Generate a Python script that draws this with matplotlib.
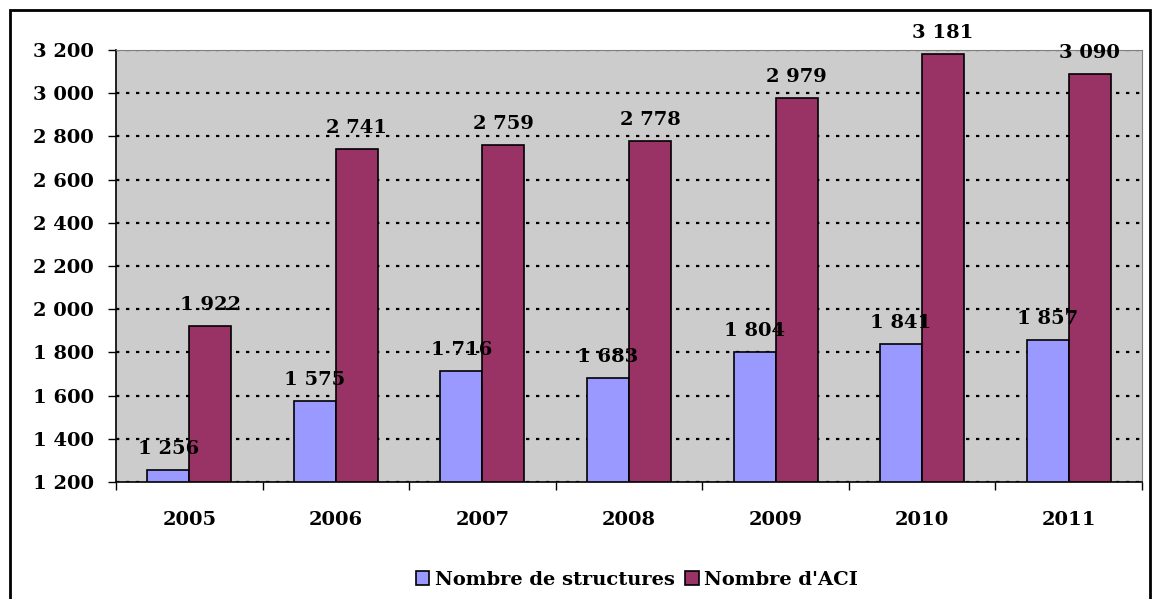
import matplotlib

matplotlib.use("Agg")
import matplotlib.pyplot as plt
import numpy as np
from matplotlib.patches import Rectangle

years = ["2005", "2006", "2007", "2008", "2009", "2010", "2011"]
structures = [1256, 1575, 1716, 1683, 1804, 1841, 1857]
aci = [1922, 2741, 2759, 2778, 2979, 3181, 3090]
series_names = ["Nombre de structures", "Nombre d'ACI"]
y_ticks = list(range(1200, 3201, 200))

BLUE = "#9999FF"
MAROON = "#993366"
FONT = dict(family="DejaVu Serif", weight="bold")
FS = 14


def fmt(v):
    return f"{v:,}".replace(",", " ")


fig = plt.figure(figsize=(11.52, 5.99), dpi=100)
fig.patches.append(
    Rectangle((10 / 1152, -0.01), 1140 / 1152, 1 - 10 / 599 + 0.01,
              transform=fig.transFigure, fill=False, edgecolor="black", linewidth=2)
)
ax = fig.add_axes([116 / 1152, 1 - 482 / 599, 1026 / 1152, 432 / 599])
ax.set_facecolor("#CCCCCC")

x = np.arange(len(years))
w = 0.287
b1 = ax.bar(x - w / 2, np.array(structures) - 1200, w, bottom=1200, color=BLUE,
            edgecolor="black", linewidth=1.2, zorder=3, label=series_names[0])
b2 = ax.bar(x + w / 2, np.array(aci) - 1200, w, bottom=1200, color=MAROON,
            edgecolor="black", linewidth=1.2, zorder=3, label=series_names[1])

for xs, vals in ((x - w / 2, structures), (x + w / 2, aci)):
    for xi, v in zip(xs, vals):
        ax.text(xi, v + 55, fmt(v), ha="center", va="bottom", fontsize=FS,
                zorder=4, **FONT)

ax.set_xlim(-0.5, len(years) - 0.5)
ax.set_ylim(1200, 3200)
ax.set_yticks(y_ticks)
ax.set_yticklabels([fmt(t) for t in y_ticks], fontsize=FS, **FONT)
ax.set_xticks(x)
ax.set_xticklabels(years, fontsize=FS, **FONT)
ax.set_xticks(np.arange(len(years) + 1) - 0.5, minor=True)
ax.tick_params(axis="x", which="major", length=0, pad=21)
ax.tick_params(axis="x", which="minor", length=6, width=1, direction="out")
ax.tick_params(axis="y", length=6, width=1, direction="out", pad=10)

ax.yaxis.grid(True, color="black", linestyle=(0, (1.5, 3)), linewidth=1.6, zorder=1)
ax.set_axisbelow(True)
for side in ("top", "right"):
    ax.spines[side].set_color("#808080")
for side in ("left", "bottom"):
    ax.spines[side].set_color("black")
    ax.spines[side].set_linewidth(1.2)

leg = fig.legend(handles=[b1, b2], loc="center", bbox_to_anchor=(0.553, 1 - 580 / 599),
                 ncol=2, frameon=False, prop=dict(size=FS, **FONT),
                 handlelength=0.7, handleheight=0.7, handletextpad=0.3, columnspacing=0.5)

fig.savefig("out.png", dpi=100)
